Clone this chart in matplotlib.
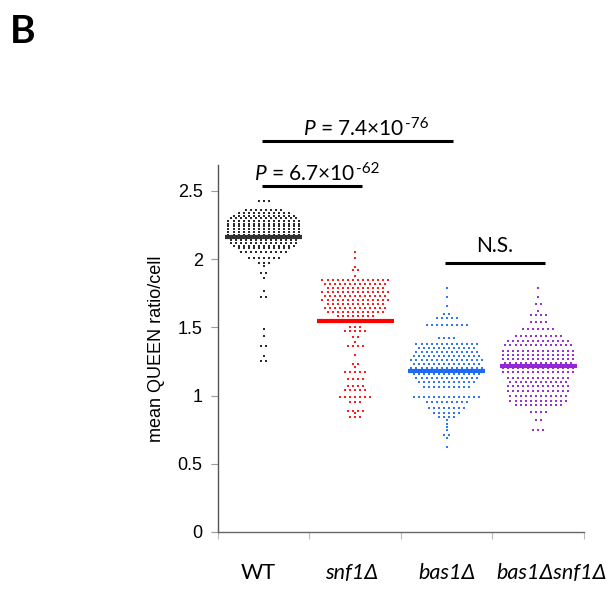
import numpy as np
import matplotlib
matplotlib.use('Agg')
from matplotlib import pyplot as plt

plt.rcParams['mathtext.fontset'] = 'custom'
plt.rcParams['mathtext.rm'] = 'Lato'
plt.rcParams['mathtext.it'] = 'Lato:italic'

# categories (rendered with italics where the genotype is a mutant)
categories = ['WT', 'snf1Δ', 'bas1Δ', 'bas1Δsnf1Δ']
cat_italic = [False, True, True, True]
cat_label_x = [0.94, 1.96, 3.0, 4.15]

# dot-plot rows: value level of a row and number of cells in it
wt_levels = [2.43, 2.36, 2.34, 2.32, 2.30, 2.28, 2.26, 2.24, 2.22, 2.20, 2.18, 2.16, 2.14,
             2.12, 2.10, 2.08, 2.05, 2.01, 1.97, 1.95, 1.90, 1.86, 1.77, 1.72, 1.49, 1.44,
             1.36, 1.29, 1.25]
wt_counts = [3, 8, 11, 13, 14, 15, 15, 15, 15, 15, 15, 15, 14,
             14, 13, 11, 10, 7, 3, 1, 2, 1, 1, 2, 1, 1,
             2, 1, 2]

snf1_levels = [2.05, 2.01, 1.94, 1.92, 1.88, 1.85, 1.82, 1.79, 1.76, 1.73, 1.70, 1.67, 1.64,
               1.61, 1.58, 1.50, 1.47, 1.43, 1.39, 1.36, 1.30, 1.23, 1.21, 1.17, 1.12, 1.07,
               1.04, 0.99, 0.95, 0.89, 0.87, 0.84]
snf1_counts = [1, 1, 1, 2, 1, 14, 13, 12, 14, 13, 14, 12, 13,
               12, 8, 3, 5, 2, 1, 4, 1, 2, 1, 5, 4, 4,
               5, 7, 3, 4, 1, 3]

bas1_levels = [1.79, 1.72, 1.66, 1.60, 1.57, 1.52, 1.42, 1.38, 1.35, 1.32, 1.29, 1.26, 1.23,
               1.20, 1.16, 1.13, 1.10, 1.06, 0.99, 0.95, 0.91, 0.87, 0.84, 0.82, 0.79, 0.77,
               0.75, 0.71, 0.69, 0.62]
bas1_counts = [1, 1, 1, 2, 5, 9, 4, 13, 12, 13, 14, 15, 14,
               15, 14, 13, 12, 10, 14, 9, 8, 6, 4, 1, 1, 1,
               1, 2, 1, 1]

double_levels = [1.79, 1.72, 1.67, 1.62, 1.59, 1.54, 1.49, 1.44, 1.40, 1.37, 1.33, 1.30, 1.27,
                 1.24, 1.20, 1.17, 1.13, 1.10, 1.07, 1.03, 1.00, 0.96, 0.93, 0.88, 0.82, 0.75]
double_counts = [1, 1, 2, 1, 4, 4, 7, 10, 13, 14, 15, 15, 15,
                 14, 15, 15, 13, 12, 13, 13, 12, 12, 10, 4, 2, 3]

# group means drawn as horizontal bars
group_means = [2.16, 1.55, 1.18, 1.22]

# significance annotations: (first group, second group, bracket height, label, exponent)
comparisons = [(0, 2, 2.867, r'$\mathit{P}$ = 7.4×10', '-76'),
               (0, 1, 2.535, r'$\mathit{P}$ = 6.7×10', '-62'),
               (2, 3, 1.973, 'N.S.', '')]

y_ticks = [0, 0.5, 1, 1.5, 2, 2.5]
y_tick_labels = ['0', '0.5', '1', '1.5', '2', '2.5']

dot_colors = ['#2a2a2a', '#ff1c1c', '#2f78f2', '#9632d2']
line_colors = ['#303030', '#ff0000', '#1f6af5', '#9326d6']

all_levels = [wt_levels, snf1_levels, bas1_levels, double_levels]
all_counts = [wt_counts, snf1_counts, bas1_counts, double_counts]


def swarm_positions(center, levels, counts, step=0.055):
    xs, ys = [], []
    for lv, n in zip(levels, counts):
        offs = (np.arange(n) - (n - 1) / 2.0) * step
        xs.extend(center + offs)
        ys.extend([lv] * n)
    return np.array(xs), np.array(ys)


fig = plt.figure(figsize=(6.14, 5.89), dpi=100)
ax = fig.add_axes([0.355, 0.0968, 0.596, 0.623])

positions = np.arange(1, len(categories) + 1)
for i, pos in enumerate(positions):
    xs, ys = swarm_positions(pos, all_levels[i], all_counts[i])
    ax.scatter(xs, ys, s=3, marker='s', color=dot_colors[i], linewidths=0, zorder=2)
    ax.plot([pos - 0.42, pos + 0.42], [group_means[i]] * 2, color=line_colors[i],
            lw=3, solid_capstyle='butt', zorder=3)

ax.set_xlim(0.5, len(categories) + 0.5)
ax.set_ylim(0, 2.69)

ax.set_yticks(y_ticks)
ax.set_yticklabels(y_tick_labels, fontsize=13, family='Liberation Sans')
ax.tick_params(axis='y', length=5, width=0.8, color='#999999', pad=6)

ax.set_xticks(np.arange(0.5, len(categories) + 1, 1))
ax.set_xticklabels([])
ax.tick_params(axis='x', which='major', length=5, width=0.8, color='#bbbbbb', direction='out')

for xl, lab, it in zip(cat_label_x, categories, cat_italic):
    ax.text(xl, -0.3, lab, ha='center', va='center', fontsize=15.5,
            family=['Lato', 'Open Sans'], style='italic' if it else 'normal')

for side in ['top', 'right']:
    ax.spines[side].set_visible(False)
ax.spines['left'].set_color('#555555')
ax.spines['bottom'].set_color('#666666')
ax.spines['left'].set_linewidth(1.0)
ax.spines['bottom'].set_linewidth(1.0)

ax.set_ylabel('mean QUEEN ratio/cell', fontsize=13, family='Liberation Sans', labelpad=9)

# significance brackets
text_offsets = [0.45, -0.09, 0.0]
for (a, b, h, lab, expo), dx in zip(comparisons, text_offsets):
    x0, x1 = positions[a] - 0.02, positions[b] + 0.07
    ax.plot([x0, x1], [h, h], color='black', lw=2.2, clip_on=False, solid_capstyle='butt')
    if not expo:
        ax.text((x0 + x1) / 2, h + 0.05, lab, ha='center', va='bottom', fontsize=15,
                family='Lato', clip_on=False)
    else:
        t = ax.text(x0 + dx, h + 0.015, lab, ha='left', va='bottom', fontsize=15,
                    family='Lato', clip_on=False)
        ax.annotate(expo, xy=(1, 1), xycoords=t, xytext=(0.5, 1.5),
                    textcoords='offset points', ha='left', va='top', fontsize=11,
                    family='Lato', annotation_clip=False)

fig.text(0.016, 0.977, 'B', fontsize=28, fontweight='bold', family='Lato', va='top', ha='left')

fig.savefig('out.png', dpi=100)
